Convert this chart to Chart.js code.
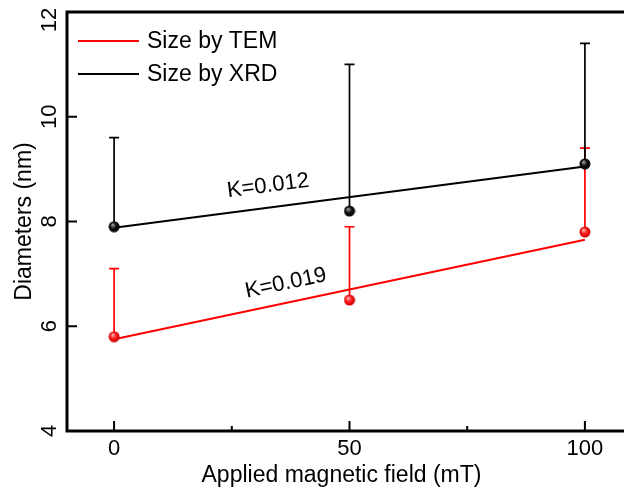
<!DOCTYPE html>
<html>
<head>
<meta charset="utf-8">
<script src="https://cdn.jsdelivr.net/npm/chart.js@4.4.1/dist/chart.umd.min.js"></script>
<style>
    html, body { margin: 0; padding: 0; background: #fff; overflow: hidden; }
    #wrap { width: 640px; height: 494px; }
</style>
</head>
<body>
<div id="wrap"><canvas id="sizeChart"></canvas></div>
<script>
// Data
const fieldValues = [0, 50, 100];
const temSize = [5.8, 6.5, 7.8];
const temUpper = [7.1, 7.9, 9.4];
const xrdSize = [7.9, 8.2, 9.1];
const xrdUpper = [9.6, 11.0, 11.4];

// linear fit end points
const fitX = [0, 100];
const temFit = [5.75, 7.65];
const xrdFit = [7.88, 9.05];

const xTicks = [0, 50, 100];
const xMinorTicks = [25, 75];
const yTicks = [4, 6, 8, 10, 12];

const seriesLabels = ['Size by TEM', 'Size by XRD'];
const slopeLabels = ['K=0.019', 'K=0.012'];

const FONT = '"Liberation Sans", Arial, sans-serif';
const RED = '#ff0000';
const BLACK = '#000000';

/* ---- Helpers ---- */
function makeBall(light, mid, dark) {
    const c = document.createElement('canvas');
    c.width = 12;
    c.height = 12;
    const g = c.getContext('2d');
    const grad = g.createRadialGradient(4.5, 4, 0.5, 6, 6, 6);
    grad.addColorStop(0, light);
    grad.addColorStop(0.45, mid);
    grad.addColorStop(1, dark);
    g.fillStyle = grad;
    g.beginPath();
    g.arc(6, 6, 5.5, 0, Math.PI * 2);
    g.fill();
    return c;
}

const toPoints = (xs, ys) => xs.map((x, i) => ({ x: x, y: ys[i] }));

/* ---- Plugins ---- */
const errorBars = {
    id: 'errorBars',
    beforeDatasetsDraw(chart) {
        const { ctx, scales: { x, y } } = chart;
        const sets = [
            { color: RED, lo: temSize, hi: temUpper },
            { color: BLACK, lo: xrdSize, hi: xrdUpper },
        ];
        ctx.save();
        ctx.lineWidth = 1.7;
        sets.forEach(s => {
            ctx.strokeStyle = s.color;
            fieldValues.forEach((f, i) => {
                const px = x.getPixelForValue(f);
                const y0 = y.getPixelForValue(s.lo[i]);
                const y1 = y.getPixelForValue(s.hi[i]);
                ctx.beginPath();
                ctx.moveTo(px, y0);
                ctx.lineTo(px, y1);
                ctx.moveTo(px - 5, y1);
                ctx.lineTo(px + 5, y1);
                ctx.stroke();
            });
        });
        ctx.restore();
    },
};

const frameAndText = {
    id: 'frameAndText',
    afterDatasetsDraw(chart) {
        const { ctx, chartArea: a, scales: { x, y } } = chart;
        ctx.save();

        // frame
        ctx.strokeStyle = BLACK;
        ctx.lineWidth = 3;
        ctx.strokeRect(a.left, a.top, a.right - a.left, a.bottom - a.top);

        // inward ticks
        ctx.lineWidth = 2;
        ctx.beginPath();
        xTicks.forEach(v => {
            const px = x.getPixelForValue(v);
            ctx.moveTo(px, a.bottom);
            ctx.lineTo(px, a.bottom - 10);
        });
        xMinorTicks.forEach(v => {
            const px = x.getPixelForValue(v);
            ctx.moveTo(px, a.bottom);
            ctx.lineTo(px, a.bottom - 5);
        });
        yTicks.forEach(v => {
            const py = y.getPixelForValue(v);
            ctx.moveTo(a.left, py);
            ctx.lineTo(a.left + 10, py);
        });
        ctx.stroke();

        // tick labels
        ctx.fillStyle = BLACK;
        ctx.font = '22px ' + FONT;
        ctx.textAlign = 'center';
        ctx.textBaseline = 'middle';
        xTicks.forEach(v => {
            ctx.fillText(String(v), x.getPixelForValue(v), a.bottom + 18);
        });
        yTicks.forEach(v => {
            const py = Math.max(y.getPixelForValue(v), a.top + 8);
            ctx.save();
            ctx.translate(a.left - 17, py);
            ctx.rotate(-Math.PI / 2);
            ctx.fillText(String(v), 0, 0);
            ctx.restore();
        });

        // axis titles
        ctx.font = '23px ' + FONT;
        ctx.fillText('Applied magnetic field (mT)', (a.left + a.right) / 2 - 8, a.bottom + 45);
        ctx.save();
        ctx.translate(a.left - 42, (a.top + a.bottom) / 2);
        ctx.rotate(-Math.PI / 2);
        ctx.fillText('Diameters (nm)', 0, 0);
        ctx.restore();

        // slope labels along the fit lines
        const fits = [temFit, xrdFit];
        const anchors = [[36.5, 6.82], [32.7, 8.68]];
        ctx.font = '22px ' + FONT;
        fits.forEach((fit, i) => {
            const dx = x.getPixelForValue(fitX[1]) - x.getPixelForValue(fitX[0]);
            const dy = y.getPixelForValue(fit[1]) - y.getPixelForValue(fit[0]);
            ctx.save();
            ctx.translate(x.getPixelForValue(anchors[i][0]), y.getPixelForValue(anchors[i][1]));
            ctx.rotate(Math.atan2(dy, dx));
            ctx.fillText(slopeLabels[i], 0, 0);
            ctx.restore();
        });

        // legend
        const colors = [RED, BLACK];
        ctx.textAlign = 'left';
        ctx.font = '23px ' + FONT;
        seriesLabels.forEach((lab, i) => {
            const ly = a.top + 29 + i * 33;
            ctx.strokeStyle = colors[i];
            ctx.lineWidth = 2;
            ctx.beginPath();
            ctx.moveTo(a.left + 11, ly);
            ctx.lineTo(a.left + 72, ly);
            ctx.stroke();
            ctx.fillText(lab, a.left + 80, ly + 1);
        });

        ctx.restore();
    },
};

/* ---- Chart ---- */
new Chart(document.getElementById('sizeChart'), {
    type: 'scatter',
    data: {
        datasets: [
            {
                label: seriesLabels[0],
                data: toPoints(fieldValues, temSize),
                pointStyle: makeBall('#ffb0b0', '#ff1a1a', '#c00000'),
                pointRadius: 6,
                showLine: false,
                order: 0,
            },
            {
                label: seriesLabels[1],
                data: toPoints(fieldValues, xrdSize),
                pointStyle: makeBall('#9a9a9a', '#111111', '#000000'),
                pointRadius: 6,
                showLine: false,
                order: 0,
            },
            {
                type: 'line',
                label: 'TEM fit',
                data: toPoints(fitX, temFit),
                borderColor: RED,
                borderWidth: 2,
                pointRadius: 0,
                order: 1,
            },
            {
                type: 'line',
                label: 'XRD fit',
                data: toPoints(fitX, xrdFit),
                borderColor: BLACK,
                borderWidth: 2,
                pointRadius: 0,
                order: 1,
            },
        ],
    },
    options: {
        responsive: true,
        maintainAspectRatio: false,
        animation: false,
        layout: { padding: { left: 67, top: 12, right: 8, bottom: 63 } },
        plugins: {
            legend: { display: false },
            tooltip: { enabled: false },
        },
        scales: {
            x: { type: 'linear', min: -10, max: 110, display: false },
            y: { type: 'linear', min: 4, max: 12, display: false },
        },
    },
    plugins: [errorBars, frameAndText],
});
</script>
</body>
</html>
